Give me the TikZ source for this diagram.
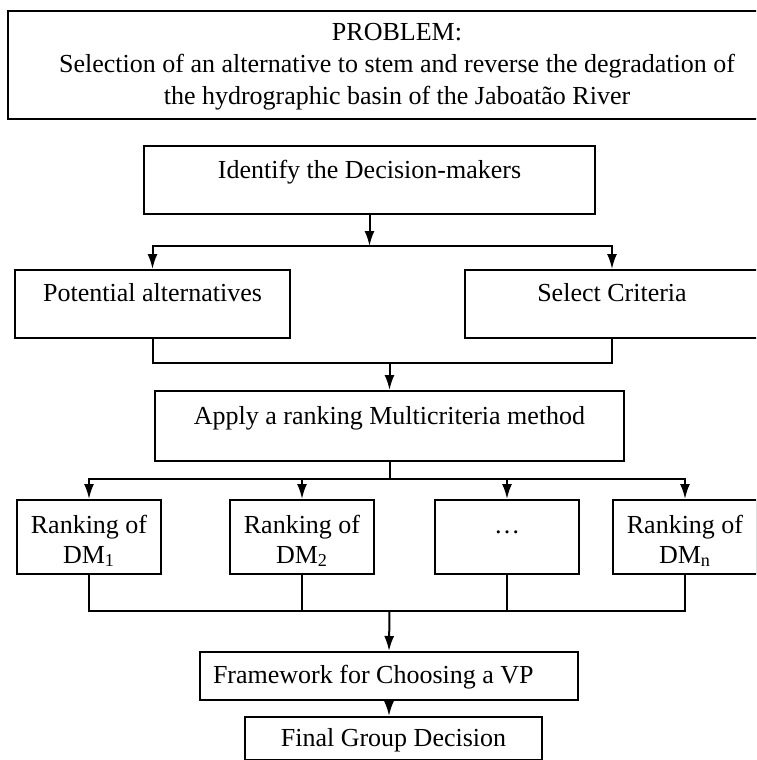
\documentclass[tikz,border=0pt]{standalone}
\usepackage{fontspec}
\setmainfont{Liberation Serif}
\usepackage{tikz}
\usetikzlibrary{arrows.meta}

\tikzset{
	caja/.style={draw, line width=1pt, inner sep=0pt, align=center, anchor=north,
		font=\fontsize{13}{15}\selectfont},
	ranking/.style={caja, minimum width=72pt, text height=31.5pt, text depth=5.5pt}
}

\begin{document}
\begin{tikzpicture}[x=0.5pt, y=-0.5pt, >={Latex[length=7.5pt,width=5pt]}, line width=1pt]
	\useasboundingbox (0,0) rectangle (756,760);
	\clip (0,0) rectangle (756,760);

	% Problem statement (box runs off the right edge)
	\node[caja, font=\fontsize{13}{16}\selectfont, minimum width=389pt, text height=46.5pt, text depth=7.5pt] (prob) at (397,10)
		{PROBLEM:\\ Selection of an alternative to stem and reverse the degradation of\\ the hydrographic basin of the Jaboatão River};

	% First steps
	\node[caja, minimum width=225.5pt, text height=16pt, text depth=18pt] (ident) at (369.5,145) {Identify the Decision-makers};
	\node[caja, minimum width=137.5pt, text height=15.5pt, text depth=18.5pt] (pot) at (152.5,269) {Potential alternatives};
	\node[caja, minimum width=147pt, text height=15.5pt, text depth=18.5pt] (sel) at (612,269) {Select Criteria};
	\node[caja, minimum width=234.5pt, text height=16.5pt, text depth=18.5pt] (apply) at (389.5,390) {Apply a ranking Multicriteria method};

	% One ranking per decision-maker
	\node[ranking] (r1) at (89,499) {Ranking of\\ DM\textsubscript{1}};
	\node[ranking] (r2) at (302,499) {Ranking of\\ DM\textsubscript{2}};
	\node[ranking, text height=16.5pt, text depth=20.5pt] (r3) at (507,499) {…};
	\node[ranking] (r4) at (685,499) {Ranking of\\ DM\textsubscript{n}};

	% Group decision
	\node[caja, text width=176pt, align=flush left, inner xsep=6.5pt, text height=15.5pt, text depth=8.5pt] (frame) at (389,651) {Framework for Choosing a VP};
	\node[caja, minimum width=148.5pt, text height=14.5pt, text depth=7pt] (final) at (393.5,716) {Final Group Decision};

	% Connectors
	\coordinate (j1) at (369.5,246);
	\draw[->] (ident.south) -- (j1);
	\draw[->] (j1) -| (pot.north);
	\draw[->] (j1) -| (sel.north);

	\coordinate (j2) at (389.5,363);
	\draw (pot.south) |- (j2) -| (sel.south);
	\draw[->] (j2) -- (apply.north);

	\coordinate (j3) at (389.5,479);
	\draw (apply.south) -- (j3);
	\draw[->] (j3) -| (r1.north);
	\draw[->] (j3) -| (r2.north);
	\draw[->] (j3) -| (r3.north);
	\draw[->] (j3) -| (r4.north);

	\coordinate (j4) at (389.5,611);
	\draw (r1.south) |- (j4) -| (r4.south);
	\draw (r2.south) -- (r2.south |- j4);
	\draw (r3.south) -- (r3.south |- j4);
	\draw[->] (j4) -- (frame.north);

	\draw[->] (frame.south) -- (frame.south |- final.north);
\end{tikzpicture}
\end{document}
